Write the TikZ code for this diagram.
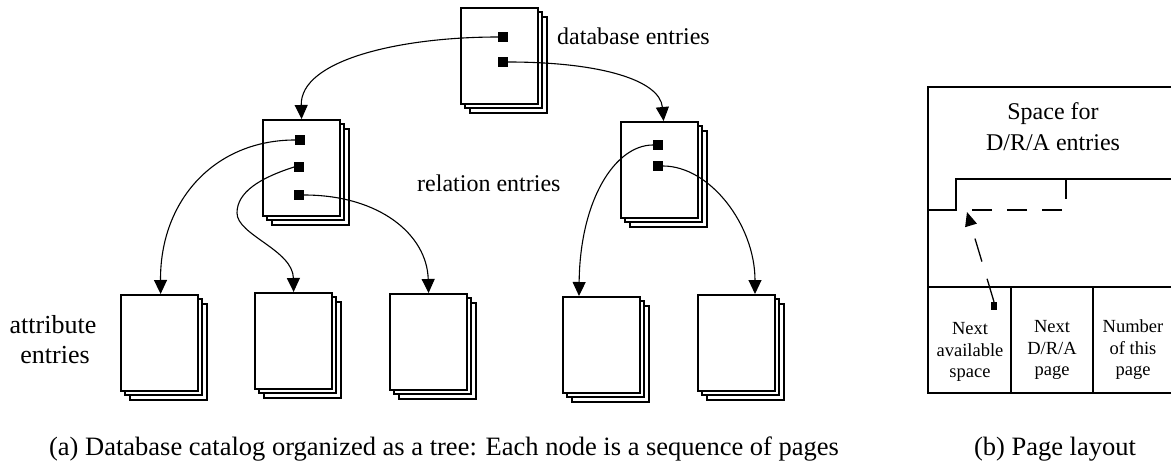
\documentclass[tikz,border=0pt]{standalone}
\usepackage{fontspec}
\setmainfont{Liberation Serif}
\usetikzlibrary{arrows.meta}
\tikzset{
  pg/.style={draw, fill=white, line width=2.2pt},
  pgfront/.style={pg, minimum width=77pt, minimum height=96pt, inner sep=0pt},
  sq/.style={fill=black, minimum size=9.5pt, inner sep=0pt},
  conn/.style={line width=1.1pt, -{Triangle[length=14pt,width=13pt]}},
  lbl/.style={font=\fontsize{24}{28}\selectfont, inner sep=0pt},
  biglbl/.style={font=\fontsize{26}{30}\selectfont, inner sep=0pt},
  caplbl/.style={font=\fontsize{26.5}{30}\selectfont, inner sep=0pt},
  cell/.style={font=\fontsize{18.5}{21.5}\selectfont, align=center, inner sep=0pt},
  lay/.style={line width=2.2pt},
  dsh/.style={line width=2.2pt, dash pattern=on 20pt off 15pt},
}
\newcommand\pagestack[3]{%
  \draw[pg] (#2+10,#3+10) rectangle ++(77,96);
  \draw[pg] (#2+5,#3+5) rectangle ++(77,96);
  \node[pgfront, anchor=north west] (#1) at (#2,#3) {};
}
\begin{document}
\begin{tikzpicture}[x=1pt,y=-1pt]
\useasboundingbox (0,0) rectangle (1171,468);
% stacks
\pagestack{db}{460}{7}
\pagestack{rl}{262}{119}
\pagestack{rm}{620}{121}
\pagestack{s1}{120}{294}
\pagestack{s2}{254}{292}
\pagestack{s3}{389}{293}
\pagestack{s4}{562}{296}
\pagestack{s5}{697}{294}
% pointer squares
\node[sq] (t1) at (503,37) {};
\node[sq] (t2) at (503,62) {};
\node[sq] (r1) at (300,140) {};
\node[sq] (r2) at (299,167) {};
\node[sq] (r3) at (299,195) {};
\node[sq] (m1) at (658,145) {};
\node[sq] (m2) at (658,166) {};
% connectors
\draw[conn] (t1.west) .. controls (400,37) and (300,60) .. (rl.north);
\draw[conn] (t2.east) .. controls (600,62) and (660,80) .. ([xshift=4pt]rm.north);
\draw[conn] (r1.west) .. controls (215,140) and (160,200) .. ([xshift=1pt]s1.north);
\draw[conn] (r2.west) .. controls (260,178) and (237,192) .. (237,213)
   .. controls (237,235) and (293,250) .. (s2.north);
\draw[conn] (r3.east) .. controls (380,195) and (427,235) .. (s3.north);
\draw[conn] (m1.west) .. controls (615,145) and (580,200) .. ([xshift=17pt]s4.north west);
\draw[conn] (m2.east) .. controls (710,166) and (755,225) .. ([xshift=58pt]s5.north west);
% labels
\node[lbl, anchor=base west] (ldb) at (557,45) {database entries};
\node[lbl, anchor=base west] (lrel) at (417,192) {relation entries};
\node[biglbl, anchor=base] (lat1) at (53,333) {attribute};
\node[biglbl, anchor=base] (lat2) at (55,363) {entries};
\node[caplbl, anchor=base] (capa) at (444,455) {(a) Database catalog organized as a tree: Each node is a sequence of pages};
\node[caplbl, anchor=base] (capb) at (1055,455) {(b) Page layout};
% page layout
\draw[lay] (928,87) rectangle (1180,393);
\draw[lay] (928,287) -- (1180,287);
\draw[lay] (1011,287) -- (1011,393);
\draw[lay] (1093,287) -- (1093,393);
\draw[lay] (928,210) -- (956,210) -- (956,179) -- (1180,179);
\draw[dsh] (1066,179) -- (1066,210) -- (956,210);
\node[font=\fontsize{24}{31}\selectfont, align=center, inner sep=0pt] (space) at (1053,127) {Space for\\D/R/A entries};
\node[cell] (c1) at (970,352) {Next\\available\\space};
\node[cell] (c2) at (1052,350) {Next\\D/R/A\\page};
\node[cell] (c3) at (1133,350) {Number\\of this\\page};
\node[fill=black, minimum width=6pt, minimum height=8pt, inner sep=0pt] (ns) at (994,306) {};
\coordinate (nas) at (967,212);
\draw[line width=1.3pt, dash pattern=on 24pt off 18pt, -{Triangle[length=14pt,width=12pt]}] (ns.north) -- (nas);
\end{tikzpicture}
\end{document}
